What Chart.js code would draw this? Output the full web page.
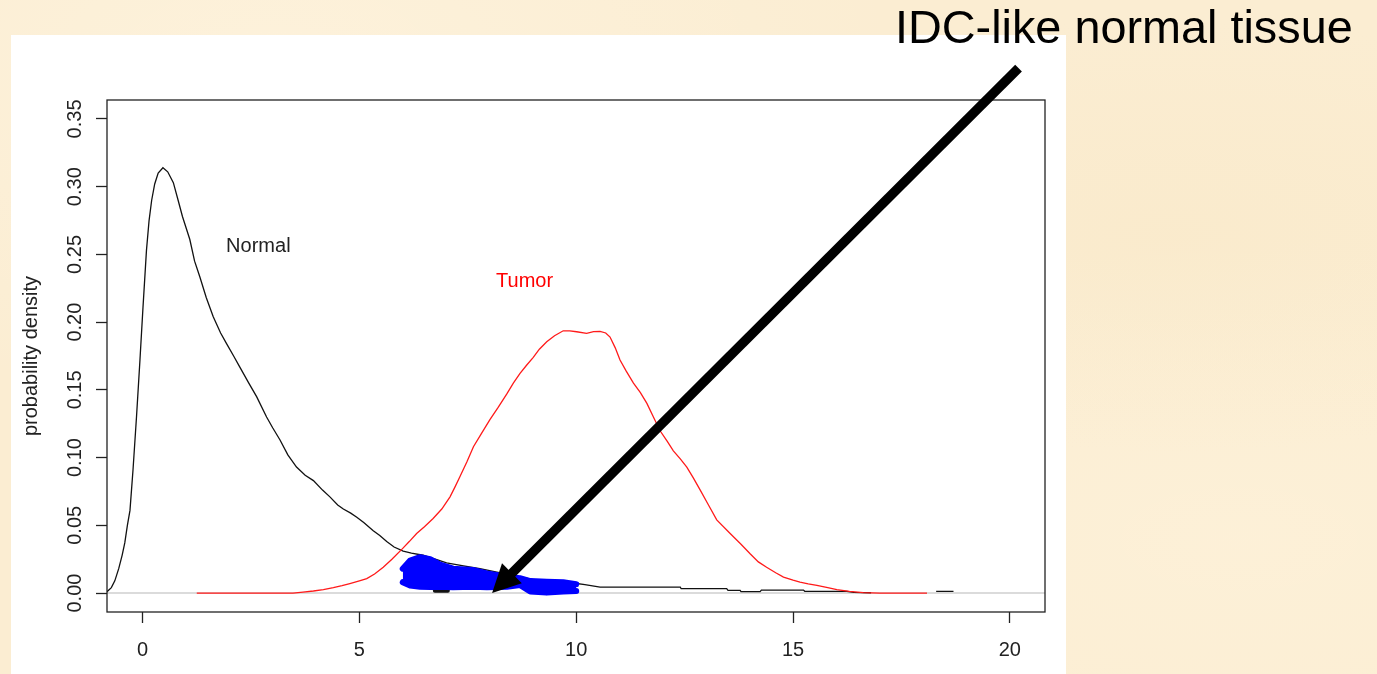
<!DOCTYPE html>
<html>
<head>
<meta charset="utf-8">
<title>IDC-like normal tissue</title>
<script src="https://cdn.jsdelivr.net/npm/chart.js@4.4.1/dist/chart.umd.min.js"></script>
<style>
  html, body { margin: 0; padding: 0; overflow: hidden; }
  body {
    width: 1377px; height: 674px; position: relative;
    background-color: #fbedd2;
    background-image:
      radial-gradient(ellipse at 20% 10%, rgba(255, 246, 228, 0.5), rgba(255, 246, 228, 0) 40%),
      radial-gradient(ellipse at 85% 35%, rgba(248, 230, 194, 0.35), rgba(248, 230, 194, 0) 35%),
      radial-gradient(ellipse at 90% 80%, rgba(255, 244, 222, 0.45), rgba(255, 244, 222, 0) 40%);
  }
  #wrap { position: absolute; left: 0; top: 0; width: 1377px; height: 674px; }
  #title {
    position: absolute; left: 895px; top: 4px;
    font-family: "Liberation Sans", Arial, sans-serif; font-size: 46.8px; line-height: 46px;
    color: #000; white-space: nowrap;
  }
</style>
</head>
<body>
<div id="wrap"><canvas id="densityChart"></canvas></div>
<div id="title">IDC-like normal tissue</div>
<script>
"use strict";

// ---- data ----
var normalX = [-0.82, -0.72, -0.64, -0.55, -0.47, -0.41, -0.35, -0.29, -0.22, -0.14, -0.06, 0.01, 0.09, 0.15, 0.21, 0.28,
    0.36, 0.47, 0.58, 0.71, 0.82, 0.92, 1.09, 1.2, 1.32, 1.47, 1.63, 1.8, 1.94, 2.1, 2.24, 2.45, 2.63, 2.86, 3.0, 3.17,
    3.35, 3.55, 3.75, 3.94, 4.15, 4.32, 4.5, 4.63, 4.8, 4.94, 5.1, 5.32, 5.47, 5.63, 5.8, 6.01, 6.2, 6.47, 6.75, 7.01,
    7.4, 7.78, 8.17, 8.55, 9.01, 9.47, 9.93, 10.2, 10.55, 12.4, 12.42, 13.47, 13.5, 13.78, 13.8, 14.24, 14.27, 15.24,
    15.27, 16.24, 16.4, 16.8, 17.5, 18.3, 18.7];
var normalY = [0.001, 0.004, 0.009, 0.018, 0.028, 0.037, 0.05, 0.061, 0.091, 0.13, 0.172, 0.211, 0.253, 0.275, 0.29, 0.302,
    0.31, 0.314, 0.311, 0.303, 0.29, 0.278, 0.261, 0.245, 0.2335, 0.218, 0.204, 0.192, 0.184, 0.175, 0.167, 0.155, 0.145,
    0.13, 0.122, 0.113, 0.102, 0.093, 0.087, 0.083, 0.076, 0.071, 0.065, 0.062, 0.059, 0.056, 0.052, 0.046, 0.0425,
    0.038, 0.034, 0.031, 0.0295, 0.0279, 0.025, 0.0222, 0.02, 0.018, 0.0155, 0.013, 0.0099, 0.0086, 0.0074, 0.0062,
    0.0044, 0.0044, 0.0032, 0.0032, 0.002, 0.002, 0.001, 0.001, 0.0022, 0.0022, 0.0013, 0.0013, 0.0005, 0.0002, null,
    0.0012, 0.0012];

var tumorX = [1.25, 3.47, 3.7, 3.94, 4.17, 4.4, 4.6, 4.78, 5.0, 5.17, 5.35, 5.55, 5.75, 6.0, 6.15, 6.32, 6.5, 6.7, 6.9,
    7.09, 7.2, 7.32, 7.48, 7.63, 7.82, 8.01, 8.2, 8.4, 8.55, 8.7, 8.85, 9.01, 9.15, 9.32, 9.5, 9.7, 9.85, 10.01, 10.24,
    10.4, 10.55, 10.68, 10.78, 10.9, 11.01, 11.15, 11.32, 11.48, 11.63, 11.78, 11.93, 12.1, 12.24, 12.4, 12.55, 12.7,
    12.86, 13.05, 13.24, 13.55, 13.8, 14.01, 14.2, 14.39, 14.6, 14.78, 15.0, 15.16, 15.35, 15.55, 15.8, 16.01, 16.3,
    16.62, 17.0, 18.09];
var tumorY = [0, 0, 0.0007, 0.0015, 0.0025, 0.004, 0.0055, 0.007, 0.009, 0.0106, 0.014, 0.019, 0.025, 0.033, 0.038, 0.044,
    0.049, 0.055, 0.062, 0.071, 0.078, 0.086, 0.097, 0.108, 0.118, 0.128, 0.137, 0.147, 0.155, 0.162, 0.168, 0.174, 0.18,
    0.1855, 0.19, 0.1936, 0.1935, 0.1929, 0.1917, 0.193, 0.1932, 0.192, 0.189, 0.181, 0.172, 0.164, 0.155, 0.148, 0.14,
    0.13, 0.12, 0.112, 0.105, 0.099, 0.093, 0.085, 0.076, 0.065, 0.054, 0.044, 0.036, 0.029, 0.023, 0.019, 0.015, 0.0118,
    0.0095, 0.0081, 0.0068, 0.0057, 0.004, 0.0025, 0.0012, 0.0003, 0, 0];

// IDC-like normal samples (blue band), upper and lower edge
var idcX = [6.0, 6.17, 6.4, 6.63, 6.86, 7.16, 7.62, 7.94, 8.4, 8.7, 8.94, 9.32, 9.7, 10.0];
var idcTop = [0.018, 0.024, 0.0265, 0.025, 0.021, 0.018, 0.017, 0.0145, 0.012, 0.011, 0.0088, 0.0084, 0.008, 0.0065];
var idcBottom = [0.008, 0.0055, 0.0047, 0.0045, 0.0047, 0.0042, 0.0046, 0.0042, 0.0046, 0.006, 0.0012, 0.0003, 0.0012, 0.0015];

// small black marks under the blue band
var markX = [6.74, 7.04];
var markY = [0.0017, 0.0017];

var xTicks = [0, 5, 10, 15, 20];
var yTicks = [0, 0.05, 0.1, 0.15, 0.2, 0.25, 0.3, 0.35];

var curveLabels = ['Normal', 'Tumor'];
var curveLabelX = [2.67, 8.81];
var curveLabelY = [0.2515, 0.2257];

var arrowFrom = [20.2, 0.3875];
var arrowTo = [8.06, 0.0];

var FONT = '"Liberation Sans", Arial, sans-serif';
var INK = '#222222';

var toPoints = function (xs, ys) {
    return xs.map(function (x, i) { return { x: x, y: ys[i] }; });
};

// white panel, baseline, box, rotated y labels, curve labels and the arrow
var decorPlugin = {
    id: 'decor',
    beforeDraw: function (chart) {
        var ctx = chart.ctx;
        ctx.save();
        ctx.fillStyle = '#ffffff';
        ctx.fillRect(11, 35, 1055, 639);
        ctx.restore();
    },
    beforeDatasetsDraw: function (chart) {
        var ctx = chart.ctx, a = chart.chartArea;
        var y0 = chart.scales.y.getPixelForValue(0);
        ctx.save();
        ctx.strokeStyle = '#cfcfcf';
        ctx.lineWidth = 1.6;
        ctx.beginPath();
        ctx.moveTo(a.left, y0);
        ctx.lineTo(a.right, y0);
        ctx.stroke();
        ctx.restore();
    },
    afterDatasetsDraw: function (chart) {
        var ctx = chart.ctx, xs = chart.scales.x, ys = chart.scales.y;
        ctx.save();
        ctx.font = '20px ' + FONT;
        ctx.textAlign = 'center';
        ctx.textBaseline = 'alphabetic';
        curveLabels.forEach(function (txt, i) {
            ctx.fillStyle = i === 0 ? INK : '#ff0000';
            ctx.fillText(txt, xs.getPixelForValue(curveLabelX[i]), ys.getPixelForValue(curveLabelY[i]));
        });
        ctx.restore();
    },
    afterDraw: function (chart) {
        var ctx = chart.ctx, a = chart.chartArea, xs = chart.scales.x, ys = chart.scales.y;
        ctx.save();
        // box
        ctx.strokeStyle = INK;
        ctx.lineWidth = 1.3;
        ctx.strokeRect(a.left, a.top, a.right - a.left, a.bottom - a.top);

        // y tick labels, rotated like R's las=0
        ctx.fillStyle = INK;
        ctx.font = '20px ' + FONT;
        ctx.textAlign = 'center';
        ctx.textBaseline = 'alphabetic';
        ys.ticks.forEach(function (t) {
            ctx.save();
            ctx.translate(81, ys.getPixelForValue(t.value));
            ctx.rotate(-Math.PI / 2);
            ctx.fillText(t.label, 0, 0);
            ctx.restore();
        });

        // arrow
        var x0 = xs.getPixelForValue(arrowFrom[0]), y0 = ys.getPixelForValue(arrowFrom[1]);
        var x1 = xs.getPixelForValue(arrowTo[0]), y1 = ys.getPixelForValue(arrowTo[1]);
        var ang = Math.atan2(y1 - y0, x1 - x0);
        var c = Math.cos(ang), s = Math.sin(ang);
        var headLen = 28, headW = 14;
        ctx.strokeStyle = '#000000';
        ctx.fillStyle = '#000000';
        ctx.lineWidth = 9.5;
        ctx.lineCap = 'butt';
        ctx.beginPath();
        ctx.moveTo(x0, y0);
        ctx.lineTo(x1 - c * headLen * 0.8, y1 - s * headLen * 0.8);
        ctx.stroke();
        var bx = x1 - c * headLen, by = y1 - s * headLen;
        ctx.beginPath();
        ctx.moveTo(x1, y1);
        ctx.lineTo(bx - s * headW, by + c * headW);
        ctx.lineTo(bx + s * headW, by - c * headW);
        ctx.closePath();
        ctx.fill();
        ctx.restore();
    }
};

var densityChart = function () {
    var ctx = document.getElementById('densityChart').getContext('2d');
    new Chart(ctx, {
        type: 'line',
        data: {
            datasets: [
                {
                    label: 'IDC-like top',
                    data: toPoints(idcX, idcTop),
                    borderColor: '#0000ff',
                    backgroundColor: '#0000ff',
                    borderWidth: 6,
                    borderJoinStyle: 'round',
                    borderCapStyle: 'round',
                    fill: '+1',
                    order: 1
                },
                {
                    label: 'IDC-like bottom',
                    data: toPoints(idcX, idcBottom),
                    borderColor: '#0000ff',
                    borderWidth: 6,
                    borderJoinStyle: 'round',
                    borderCapStyle: 'round',
                    fill: false,
                    order: 1
                },
                {
                    label: 'Tumor',
                    data: toPoints(tumorX, tumorY),
                    borderColor: '#ff1a1a',
                    borderWidth: 1.3,
                    fill: false,
                    order: 3
                },
                {
                    label: 'marks',
                    data: toPoints(markX, markY),
                    borderColor: '#111111',
                    borderWidth: 4,
                    borderCapStyle: 'round',
                    fill: false,
                    order: 4
                },
                {
                    label: 'Normal',
                    data: toPoints(normalX, normalY),
                    borderColor: '#111111',
                    borderWidth: 1.3,
                    spanGaps: false,
                    fill: false,
                    order: 5
                }
            ]
        },
        options: {
            responsive: true,
            maintainAspectRatio: false,
            animation: false,
            layout: {
                padding: { left: 0, right: 332, top: 100, bottom: 0 }
            },
            elements: {
                point: { radius: 0, hoverRadius: 0 },
                line: { tension: 0 }
            },
            plugins: {
                legend: { display: false },
                tooltip: { enabled: false }
            },
            scales: {
                x: {
                    type: 'linear',
                    min: -0.82,
                    max: 20.81,
                    afterBuildTicks: function (scale) {
                        scale.ticks = xTicks.map(function (v) { return { value: v }; });
                    },
                    afterFit: function (scale) { scale.height = 62; },
                    border: { display: false },
                    grid: { drawOnChartArea: false, drawTicks: true, tickLength: 11, tickColor: INK, tickWidth: 1.3 },
                    ticks: {
                        color: INK,
                        font: { family: FONT, size: 20 },
                        padding: 15,
                        maxRotation: 0,
                        autoSkip: false,
                        callback: function (v) { return String(v); }
                    }
                },
                y: {
                    type: 'linear',
                    min: -0.014,
                    max: 0.364,
                    afterBuildTicks: function (scale) {
                        scale.ticks = yTicks.map(function (v) { return { value: v }; });
                    },
                    afterFit: function (scale) { scale.width = 107; },
                    border: { display: false },
                    grid: { drawOnChartArea: false, drawTicks: true, tickLength: 11, tickColor: INK, tickWidth: 1.3 },
                    ticks: {
                        display: false,
                        callback: function (v) { return Number(v).toFixed(2); }
                    },
                    title: {
                        display: true,
                        text: 'probability density',
                        color: INK,
                        font: { family: FONT, size: 20 },
                        padding: { top: 19, bottom: 0 }
                    }
                }
            }
        },
        plugins: [decorPlugin]
    });
};

densityChart();
</script>
</body>
</html>
